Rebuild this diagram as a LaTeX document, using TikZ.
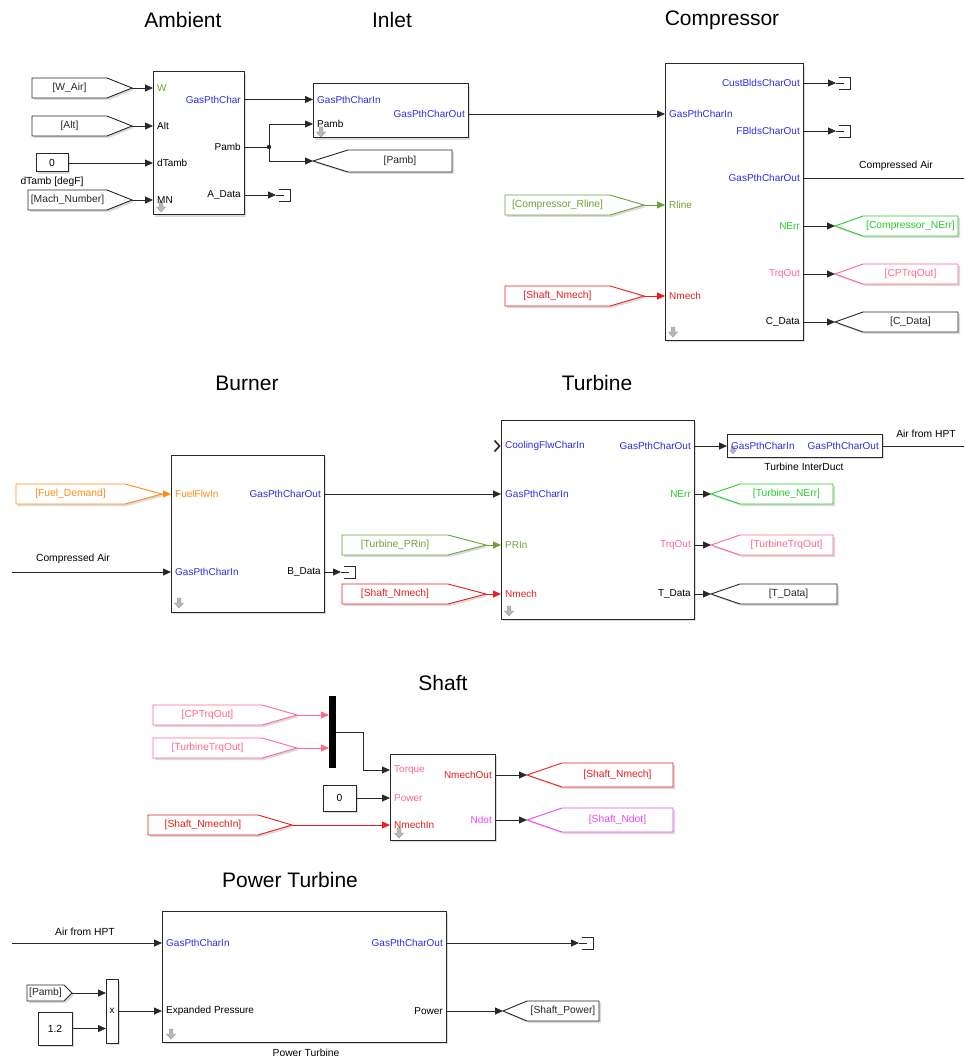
\documentclass[tikz,border=0pt]{standalone}
\usepackage{fontspec}
\setmainfont{Liberation Sans}
\usetikzlibrary{arrows.meta,shadows,calc}
\definecolor{cblue}{RGB}{45,45,235}
\definecolor{colive}{RGB}{112,160,60}
\definecolor{cgreen}{RGB}{40,205,40}
\definecolor{cpink}{RGB}{255,105,140}
\definecolor{cred}{RGB}{235,30,30}
\definecolor{corange}{RGB}{255,140,25}
\definecolor{cmag}{RGB}{240,70,240}
\definecolor{cline}{RGB}{40,40,40}
\tikzset{
 shd/.style={drop shadow={shadow xshift=2pt,shadow yshift=-2pt,fill=black,opacity=0.14}},
 blk/.style={draw=cline,line width=1pt,fill=white,shd,inner sep=0pt,outer sep=0pt,anchor=north west},
 gblk/.style={line width=0.9pt,fill=white,shd},
 tl/.style={font=\fontsize{10.3}{12}\selectfont,inner sep=0pt},
 pl/.style={font=\fontsize{10}{11}\selectfont,inner sep=0pt},
 ttl/.style={font=\fontsize{21}{25}\selectfont,inner sep=0pt},
 sig/.style={draw=cline,line width=0.8pt,-{Triangle[length=8pt,width=7pt]}},
 wire/.style={draw=cline,line width=0.8pt},
 termst/.style={draw=cline,line width=0.9pt},
 maskarrow/.pic={\path[fill=black!28,draw=black!40,line width=0.4pt] (-1.8,-5) -- (1.8,-5) -- (1.8,0) -- (4.5,0) -- (0,5) -- (-4.5,0) -- (-1.8,0) -- cycle;}
}
% source (From) block: name,left,bodyend,tip,top,bottom,color,text
\newcommand\srcblk[8]{%
  \draw[gblk,draw=#7] (#2,#5) -- (#3,#5) -- (#4,{(#5+#6)/2}) -- (#3,#6) -- (#2,#6) -- cycle;
  \node[tl,text=#7] (#1) at ({(#2+#3)/2},{(#5+#6)/2}) {#8};
  \coordinate (#1-tip) at (#4,{(#5+#6)/2});
}
% sink (Goto) block: name,tip,slantend,right,top,bottom,color,text
\newcommand\snkblk[8]{%
  \draw[gblk,draw=#7] (#2,{(#5+#6)/2}) -- (#3,#5) -- (#4,#5) -- (#4,#6) -- (#3,#6) -- cycle;
  \node[tl,text=#7] (#1) at ({(#3+#4)/2},{(#5+#6)/2}) {#8};
  \coordinate (#1-tip) at (#2,{(#5+#6)/2});
}
\newcommand\termblk[1]{%
  \draw[termst] ([xshift=3pt,yshift=6pt]#1) -- ++(11,0) -- ++(0,12) -- ++(-11,0);
  \draw[termst] (#1) -- ++(8,0);
}
\begin{document}
\begin{tikzpicture}[x=1pt,y=-1pt]
\path[use as bounding box,fill=white] (0,0) rectangle (964,1059);

% ---------- titles ----------
\node[ttl] (t-amb) at (183,20) {Ambient};
\node[ttl] (t-inl) at (392,20) {Inlet};
\node[ttl] (t-cmp) at (722,20) {Compressor};
\node[ttl] (t-brn) at (247,383) {Burner};
\node[ttl] (t-trb) at (597,383) {Turbine};
\node[ttl] (t-shf) at (443,683) {Shaft};
\node[ttl] (t-pt) at (290,880) {Power Turbine};

% ---------- Ambient ----------
\node[blk,minimum width=91pt,minimum height=143pt] (amb) at (153,72) {};
\pic at (161,207) {maskarrow};
\node[pl,anchor=west,text=colive] (amb-lW) at (157,88) {W};
\node[pl,anchor=west] (amb-lAlt) at (157,126) {Alt};
\node[pl,anchor=west] (amb-ldT) at (157,163) {dTamb};
\node[pl,anchor=west] (amb-lMN) at (157,200) {MN};
\node[pl,anchor=east,text=cblue] (amb-lG) at (241,99.5) {GasPthChar};
\node[pl,anchor=east] (amb-lP) at (241,147) {Pamb};
\node[pl,anchor=east] (amb-lA) at (241,195) {A\_Data};
\coordinate (amb-W) at (153,88);
\coordinate (amb-Alt) at (153,126);
\coordinate (amb-dT) at (153,163);
\coordinate (amb-MN) at (153,200);
\coordinate (amb-G) at (244,99.5);
\coordinate (amb-P) at (244,147);
\coordinate (amb-A) at (244,195);

\srcblk{wair}{32}{107}{132}{78}{98}{cline}{[W\_Air]}
\srcblk{alt}{32}{107}{132}{116}{136}{cline}{[Alt]}
\node[blk,tl,minimum width=32pt,minimum height=18pt] (c0a) at (36,154) {0};
\node[tl] (c0a-lbl) at (52,182) {dTamb [degF]};
\srcblk{mach}{28}{107}{132}{190}{210}{cline}{[Mach\_Number]}
\draw[sig] (wair-tip) -- (amb-W);
\draw[sig] (alt-tip) -- (amb-Alt);
\draw[sig] (c0a.east) -- (amb-dT);
\draw[sig] (mach-tip) -- (amb-MN);
\coordinate (at) at (276,195);
\draw[sig] (amb-A) -- (at);
\termblk{at}

% ---------- Inlet ----------
\node[blk,minimum width=155pt,minimum height=54pt] (inl) at (313,84) {};
\pic at (321,132) {maskarrow};
\node[pl,anchor=west,text=cblue] (inl-lG) at (317,99.5) {GasPthCharIn};
\node[pl,anchor=west] (inl-lP) at (317,124) {Pamb};
\node[pl,anchor=east,text=cblue] (inl-lO) at (465,114) {GasPthCharOut};
\coordinate (inl-G) at (313,99.5);
\coordinate (inl-P) at (313,124);
\coordinate (inl-O) at (468,114);
\snkblk{pambg}{313}{348}{452}{150}{172}{cline}{[Pamb]}
\coordinate (br1) at (269,147);
\draw[wire] (amb-P) -- (br1);
\draw[sig] (br1) |- (inl-P);
\draw[sig] (br1) |- (pambg-tip);
\fill[cline] (br1) circle (2.2);
\draw[sig] (amb-G) -- (inl-G);

% ---------- Compressor ----------
\node[blk,minimum width=138pt,minimum height=276pt] (cmp) at (665,64) {};
\pic at (673,332) {maskarrow};
\coordinate (cmp-G) at (665,114);
\coordinate (cmp-R) at (665,205);
\coordinate (cmp-N) at (665,296);
\node[pl,anchor=west,text=cblue] (cmp-lG) at (669,114) {GasPthCharIn};
\node[pl,anchor=west,text=colive] (cmp-lR) at (669,205) {Rline};
\node[pl,anchor=west,text=cred] (cmp-lN) at (669,296) {Nmech};
\node[pl,anchor=east,text=cblue] (cmp-l1) at (800,83) {CustBldsCharOut};
\node[pl,anchor=east,text=cblue] (cmp-l2) at (800,131) {FBldsCharOut};
\node[pl,anchor=east,text=cblue] (cmp-l3) at (800,178) {GasPthCharOut};
\node[pl,anchor=east,text=cgreen] (cmp-l4) at (800,226) {NErr};
\node[pl,anchor=east,text=cpink] (cmp-l5) at (800,274) {TrqOut};
\node[pl,anchor=east] (cmp-l6) at (800,322) {C\_Data};
\coordinate (cmp-o1) at (803,83);
\coordinate (cmp-o2) at (803,131);
\coordinate (cmp-o3) at (803,178);
\coordinate (cmp-o4) at (803,226);
\coordinate (cmp-o5) at (803,274);
\coordinate (cmp-o6) at (803,322);
\draw[sig] (inl-O) -- (cmp-G);
\srcblk{crline}{505}{610}{644}{195}{215}{colive}{[Compressor\_Rline]}
\srcblk{cnmech}{505}{610}{644}{286}{306}{cred}{[Shaft\_Nmech]}
\draw[sig,draw=colive] (crline-tip) -- (cmp-R);
\draw[sig,draw=cred] (cnmech-tip) -- (cmp-N);
\snkblk{cnerr}{835}{863}{958}{216}{236}{cgreen}{[Compressor\_NErr]}
\snkblk{ctrq}{835}{863}{958}{264}{284}{cpink}{[CPTrqOut]}
\snkblk{cdata}{835}{863}{958}{312}{332}{cline}{[C\_Data]}
\coordinate (ct1) at (836,83);
\coordinate (ct2) at (836,131);
\draw[sig] (cmp-o1) -- (ct1);
\termblk{ct1}
\draw[sig] (cmp-o2) -- (ct2);
\termblk{ct2}
\coordinate (caout) at (964,178);
\draw[wire] (cmp-o3) -- (caout);
\node[tl] (ca-lbl) at (896,166) {Compressed Air};
\draw[sig] (cmp-o4) -- (cnerr-tip);
\draw[sig] (cmp-o5) -- (ctrq-tip);
\draw[sig] (cmp-o6) -- (cdata-tip);

% ---------- Burner ----------
\node[blk,minimum width=153pt,minimum height=157pt] (brn) at (171,455) {};
\pic at (179,603) {maskarrow};
\coordinate (brn-F) at (171,494);
\coordinate (brn-G) at (171,572);
\coordinate (brn-O) at (324,494);
\coordinate (brn-B) at (324,572);
\node[pl,anchor=west,text=corange] (brn-lF) at (175,494) {FuelFlwIn};
\node[pl,anchor=west,text=cblue] (brn-lG) at (175,572) {GasPthCharIn};
\node[pl,anchor=east,text=cblue] (brn-lO) at (321,494) {GasPthCharOut};
\node[pl,anchor=east] (brn-lB) at (321,572) {B\_Data};
\srcblk{fuel}{16}{125}{162}{484}{504}{corange}{[Fuel\_Demand]}
\draw[sig,draw=corange] (fuel-tip) -- (brn-F);
\coordinate (cain) at (12,572);
\draw[sig] (cain) -- (brn-G);
\node[tl] (ca2-lbl) at (73,559) {Compressed Air};
\coordinate (bt) at (341,572);
\draw[sig] (brn-B) -- (bt);
\termblk{bt}

% ---------- Turbine ----------
\node[blk,minimum width=193pt,minimum height=199pt] (trb) at (501,420) {};
\pic at (509,611) {maskarrow};
\coordinate (trb-C) at (501,446);
\coordinate (trb-G) at (501,494);
\coordinate (trb-R) at (501,545);
\coordinate (trb-N) at (501,594);
\coordinate (trb-o1) at (694,446);
\coordinate (trb-o2) at (694,494);
\coordinate (trb-o3) at (694,545);
\coordinate (trb-o4) at (694,594);
\node[pl,anchor=west,text=cblue] (trb-lC) at (505,446) {CoolingFlwCharIn};
\node[pl,anchor=west,text=cblue] (trb-lG) at (505,494) {GasPthCharIn};
\node[pl,anchor=west,text=colive] (trb-lR) at (505,545) {PRIn};
\node[pl,anchor=west,text=cred] (trb-lN) at (505,594) {Nmech};
\node[pl,anchor=east,text=cblue] (trb-l1) at (691,446) {GasPthCharOut};
\node[pl,anchor=east,text=cgreen] (trb-l2) at (691,494) {NErr};
\node[pl,anchor=east,text=cpink] (trb-l3) at (691,545) {TrqOut};
\node[pl,anchor=east] (trb-l4) at (691,594) {T\_Data};
\draw[cline,line width=1.6pt] (494.5,440.5) -- (499.5,446) -- (494.5,451.5);
\draw[sig] (brn-O) -- (trb-G);
\srcblk{tprin}{342}{448}{486}{535}{555}{colive}{[Turbine\_PRin]}
\srcblk{tnmech}{342}{448}{486}{584}{604}{cred}{[Shaft\_Nmech]}
\draw[sig,draw=colive] (tprin-tip) -- (trb-R);
\draw[sig,draw=cred] (tnmech-tip) -- (trb-N);
\snkblk{tnerr}{711}{740}{833}{484}{504}{cgreen}{[Turbine\_NErr]}
\snkblk{ttrq}{711}{740}{833}{535}{555}{cpink}{[TurbineTrqOut]}
\snkblk{tdata}{711}{740}{837}{584}{604}{cline}{[T\_Data]}
\draw[sig] (trb-o2) -- (tnerr-tip);
\draw[sig] (trb-o3) -- (ttrq-tip);
\draw[sig] (trb-o4) -- (tdata-tip);
% InterDuct
\node[blk,minimum width=155pt,minimum height=23pt] (tid) at (727,434) {};
\pic[scale=0.75] at (733,450) {maskarrow};
\coordinate (tid-i) at (727,446);
\coordinate (tid-o) at (882,446);
\node[pl,anchor=west,text=cblue] (tid-lI) at (731,446) {GasPthCharIn};
\node[pl,anchor=east,text=cblue] (tid-lO) at (879,446) {GasPthCharOut};
\node[tl] (tid-lbl) at (804,467) {Turbine InterDuct};
\draw[sig] (trb-o1) -- (tid-i);
\coordinate (hptout) at (964,446);
\draw[wire] (tid-o) -- (hptout);
\node[tl] (hpt-lbl) at (926,434) {Air from HPT};

% ---------- Shaft ----------
\node[fill=black,inner sep=0pt,outer sep=0pt,minimum width=7pt,minimum height=72pt,anchor=north west] (mux) at (329,696) {};
\coordinate (mux-i1) at (329,715);
\coordinate (mux-i2) at (329,748);
\coordinate (mux-o) at (336,732);
\srcblk{sctrq}{153}{262}{297}{705}{725}{cpink}{[CPTrqOut]}
\srcblk{sttrq}{153}{262}{297}{738}{758}{cpink}{[TurbineTrqOut]}
\draw[sig,draw=cpink] (sctrq-tip) -- (mux-i1);
\draw[sig,draw=cpink] (sttrq-tip) -- (mux-i2);
\node[blk,minimum width=105pt,minimum height=86pt] (shf) at (390,754) {};
\pic at (399,833) {maskarrow};
\coordinate (shf-T) at (390,770);
\coordinate (shf-P) at (390,798);
\coordinate (shf-N) at (390,825);
\coordinate (shf-o1) at (495,775);
\coordinate (shf-o2) at (495,820);
\node[pl,anchor=west,text=cpink] (shf-lT) at (394,770) {Torque};
\node[pl,anchor=west,text=cpink] (shf-lP) at (394,798) {Power};
\node[pl,anchor=west,text=cred] (shf-lN) at (394,825) {NmechIn};
\node[pl,anchor=east,text=cred] (shf-l1) at (492,775) {NmechOut};
\node[pl,anchor=east,text=cmag] (shf-l2) at (492,820) {Ndot};
\coordinate (mbend) at (363,732);
\draw[sig] (mux-o) -- (mbend) |- (shf-T);
\node[blk,tl,minimum width=33pt,minimum height=26pt] (c0s) at (323,785) {0};
\draw[sig] (c0s.east) -- (shf-P);
\srcblk{snmin}{148}{258}{292}{815}{835}{cred}{[Shaft\_NmechIn]}
\draw[sig,draw=cred] (snmin-tip) -- (shf-N);
\snkblk{snm}{527}{562}{673}{763}{787}{cred}{[Shaft\_Nmech]}
\snkblk{snd}{527}{562}{673}{808}{832}{cmag}{[Shaft\_Ndot]}
\draw[sig] (shf-o1) -- (snm-tip);
\draw[sig] (shf-o2) -- (snd-tip);

% ---------- Power Turbine ----------
\node[blk,minimum width=284pt,minimum height=131pt] (pt) at (162,911) {};
\pic at (171,1034) {maskarrow};
\coordinate (pt-G) at (162,943);
\coordinate (pt-E) at (162,1011);
\coordinate (pt-O) at (446,943);
\coordinate (pt-P) at (446,1011);
\node[pl,anchor=west,text=cblue] (pt-lG) at (166,943) {GasPthCharIn};
\node[pl,anchor=west] (pt-lE) at (166,1011) {Expanded Pressure};
\node[pl,anchor=east,text=cblue] (pt-lO) at (443,943) {GasPthCharOut};
\node[pl,anchor=east] (pt-lP) at (443,1011) {Power};
\coordinate (hptin) at (12,943);
\draw[sig] (hptin) -- (pt-G);
\node[tl] (hpt2-lbl) at (85,932) {Air from HPT};
\coordinate (ptt) at (579,943);
\draw[sig] (pt-O) -- (ptt);
\termblk{ptt}
\node[blk,pl,minimum width=12pt,minimum height=64pt] (prod) at (106,979) {x};
\coordinate (prod-i1) at (106,993);
\coordinate (prod-i2) at (106,1028.5);
\coordinate (prod-o) at (118,1011);
\srcblk{ppamb}{27}{64}{72}{985}{1001}{cline}{[Pamb]}
\node[blk,tl,minimum width=34pt,minimum height=33pt] (c12) at (38,1012) {1.2};
\draw[sig] (ppamb-tip) -- (prod-i1);
\draw[sig] (c12.east) -- (prod-i2);
\draw[sig] (prod-o) -- (pt-E);
\snkblk{spow}{503}{527}{599}{1001}{1021}{cline}{[Shaft\_Power]}
\draw[sig] (pt-P) -- (spow-tip);
\node[tl] (pt-lbl) at (306,1053) {Power Turbine};
\end{tikzpicture}
\end{document}
